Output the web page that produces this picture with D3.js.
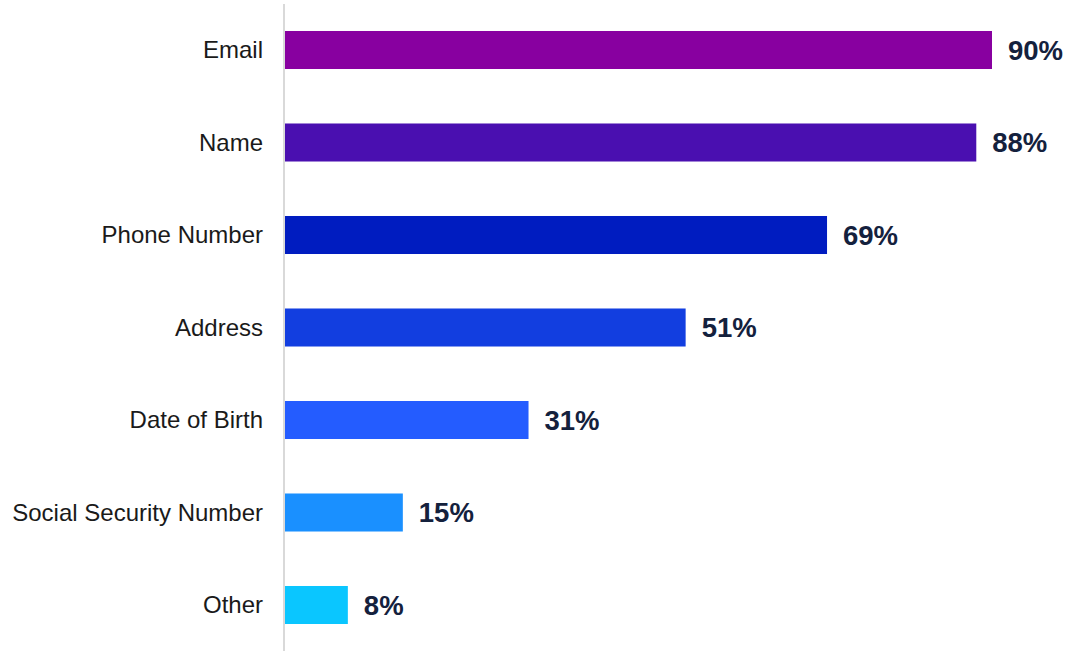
<!DOCTYPE html>
<html>
<head>
<meta charset="utf-8">
<script src="https://cdn.jsdelivr.net/npm/d3@7"></script>
<style>
  html, body { margin: 0; padding: 0; background: #fff; }
  svg { display: block; }
</style>
</head>
<body>
<svg id="chart" width="1077" height="651"></svg>
<script>
// Share of respondents reporting each type of personal data
const categories = ["Email", "Name", "Phone Number", "Address", "Date of Birth", "Social Security Number", "Other"];
const values = [90, 88, 69, 51, 31, 15, 8];
const barColors = ["#8800A0", "#4A0FB0", "#001CC0", "#123EE0", "#245CFF", "#1A90FF", "#0AC6FF"];

const svg = d3.select("#chart");
const width = 1077, height = 651;
const axisX = 285;

const x = d3.scaleLinear().domain([0, 90]).range([axisX, 992]);
const y = d3.scaleBand()
  .domain(categories)
  .range([3.75, 651.25])
  .paddingInner(0.589)
  .paddingOuter(0.2945);

// baseline axis
svg.append("line")
  .attr("x1", axisX - 1).attr("x2", axisX - 1)
  .attr("y1", 4).attr("y2", height)
  .attr("stroke", "#d9d9d9").attr("stroke-width", 2);

const rows = svg.selectAll("g.row")
  .data(categories.map((c, i) => ({ c, v: values[i], col: barColors[i] })))
  .join("g").attr("class", "row");

rows.append("rect")
  .attr("x", x(0))
  .attr("y", d => y(d.c))
  .attr("width", d => x(d.v) - x(0))
  .attr("height", y.bandwidth())
  .attr("fill", d => d.col);

rows.append("text")
  .attr("x", axisX - 22)
  .attr("y", d => y(d.c) + y.bandwidth() / 2)
  .attr("dy", "0.35em")
  .attr("text-anchor", "end")
  .attr("font-family", "'Liberation Sans', Arial, sans-serif")
  .attr("font-size", 24)
  .attr("fill", "#1a1a1a")
  .text(d => d.c);

rows.append("text")
  .attr("x", d => x(d.v) + 16)
  .attr("y", d => y(d.c) + y.bandwidth() / 2)
  .attr("dy", "0.36em")
  .attr("font-family", "'Liberation Sans', Arial, sans-serif")
  .attr("font-weight", "bold")
  .attr("font-size", 27.5)
  .attr("fill", "#14213D")
  .text(d => d.v + "%");
</script>
</body>
</html>
